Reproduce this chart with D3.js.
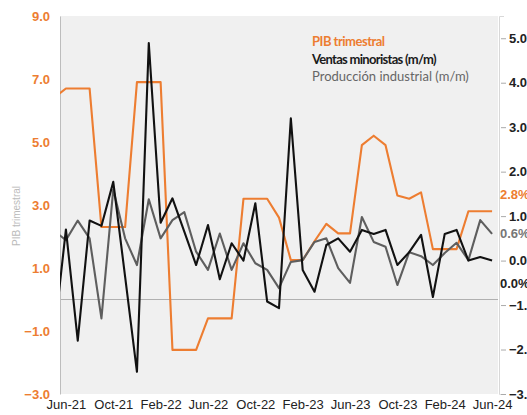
<!DOCTYPE html>
<html><head><meta charset="utf-8">
<script src="https://cdn.jsdelivr.net/npm/d3@7/dist/d3.min.js"></script>
<style>body{margin:0;background:#fff}svg{display:block}</style>
</head><body>
<svg id="c" width="527" height="415"></svg>
<script>
const months = ["May-21","Jun-21","Jul-21","Aug-21","Sep-21","Oct-21","Nov-21","Dec-21","Jan-22","Feb-22","Mar-22","Apr-22","May-22","Jun-22","Jul-22","Aug-22","Sep-22","Oct-22","Nov-22","Dec-22","Jan-23","Feb-23","Mar-23","Apr-23","May-23","Jun-23","Jul-23","Aug-23","Sep-23","Oct-23","Nov-23","Dec-23","Jan-24","Feb-24","Mar-24","Apr-24","May-24","Jun-24"];
const tickLabels = ["Jun-21","Oct-21","Feb-22","Jun-22","Oct-22","Feb-23","Jun-23","Oct-23","Feb-24","Jun-24"];
const pib = [6.4,6.7,6.7,6.7,2.3,2.3,2.3,6.9,6.9,6.9,-1.6,-1.6,-1.6,-0.6,-0.6,-0.6,3.2,3.2,3.2,2.6,1.25,1.25,1.85,2.4,2.1,2.1,4.9,5.2,4.9,3.3,3.2,3.4,1.6,1.6,1.6,2.8,2.8,2.8];
const ventas = [-1.7,0.7,-1.8,0.9,0.78,1.77,-0.36,-2.5,4.89,0.85,1.4,0.65,-0.1,0.8,-0.42,0.39,0.0,1.29,-0.92,-1.07,3.2,-0.21,-0.7,0.35,0.5,0.2,0.69,0.6,0.69,-0.1,0.19,0.58,-0.82,0.6,0.69,0.0,0.08,0.0];
const produccion = [0.67,0.46,0.9,0.5,-1.3,1.6,0.5,-0.1,1.38,0.5,0.91,1.09,0.2,-0.21,0.61,-0.21,0.39,-0.06,-0.21,-0.62,-0.03,0.01,0.42,0.5,-0.17,-0.5,0.98,0.42,0.31,-0.55,0.19,0.1,-0.1,0.17,0.4,0.01,0.91,0.6];
const leftTicks = [9,7,5,3,1,-1,-3];
const rightTicks = [5,4,3,2,1,0,-1,-2,-3];
const legendItems = ["PIB trimestral","Ventas minoristas (m/m)","Producción industrial (m/m)"];
const lastLabels = ["2.8%","0.6%","0.0%"];

const L=60,R=498,T=16,B=394;
const svg=d3.select("#c");
const x=d3.scaleLinear().domain([0.5,months.length-0.5]).range([L,R]);
const yL=d3.scaleLinear().domain([-3,9]).range([B,T]);
const yR=d3.scaleLinear().domain([-3,5.5]).range([B,T]);
const orange="#ED7D31", black="#111111", gray="#5e5e5e";

svg.append("rect").attr("x",L).attr("y",T).attr("width",R-L).attr("height",B-T).attr("fill","#f0f0f0");
svg.append("defs").append("clipPath").attr("id","clip").append("rect").attr("x",L).attr("y",T-20).attr("width",R-L).attr("height",B-T+40);

// zero line
svg.append("line").attr("x1",L).attr("x2",R).attr("y1",yL(0)).attr("y2",yL(0)).attr("stroke","#b0b0b0").attr("stroke-width",1);

// left axis
const ga=svg.append("g").attr("transform",`translate(${L},0)`).call(d3.axisLeft(yL).tickValues(leftTicks).tickFormat(d3.format(".1f")).tickSize(0).tickPadding(10));
ga.select(".domain").attr("stroke","#bdbdbd");
ga.selectAll("text").attr("fill",orange).style("font","bold 13px 'Liberation Sans', Arial, sans-serif");

// right axis
const gr=svg.append("g").attr("transform",`translate(${R+1},0)`).call(d3.axisRight(yR).tickValues(rightTicks).tickFormat(d3.format(".1f")).tickSize(5).tickPadding(5));
gr.select(".domain").attr("stroke","#d8d8d8");
gr.selectAll(".tick line").attr("stroke","#aaa").attr("transform","translate(2,0)");
gr.selectAll("text").attr("fill","#222").style("font","bold 13px 'Liberation Sans', Arial, sans-serif");

// x axis labels
const gx=svg.append("g").attr("transform",`translate(0,${B})`).call(d3.axisBottom(x).tickValues(tickLabels.map(t=>months.indexOf(t))).tickFormat(i=>months[i]).tickSize(0).tickPadding(6));
gx.select(".domain").remove();
gx.selectAll("text").attr("fill","#222").style("font","13px 'Liberation Sans', Arial, sans-serif");

// y title
svg.append("text").attr("transform",`translate(20,${(T+B)/2+11}) rotate(-90)`).attr("text-anchor","middle")
  .attr("fill","#bbb").style("font","10px 'Liberation Sans', Arial, sans-serif").text("PIB trimestral");

const lines=svg.append("g").attr("clip-path","url(#clip)");
const mk=(arr,ys)=>d3.line().x((d,i)=>x(i)).y(d=>ys(d))(arr);
lines.append("path").attr("d",mk(pib,yL)).attr("fill","none").attr("stroke",orange).attr("stroke-width",2.1).attr("stroke-linejoin","round");
lines.append("path").attr("d",mk(produccion,yR)).attr("fill","none").attr("stroke",gray).attr("stroke-width",2.1).attr("stroke-linejoin","round");
lines.append("path").attr("d",mk(ventas,yR)).attr("fill","none").attr("stroke",black).attr("stroke-width",2.1).attr("stroke-linejoin","round");

// legend
const legColors=[orange,"#1a1a1a","#666"], legWeights=["bold","bold","normal"], legSpacing=["-0.5px","-0.7px","0px"];
legendItems.forEach((t,i)=>{
  svg.append("text").attr("x",312).attr("y",46+i*17.5).attr("fill",legColors[i])
    .style("font",`${legWeights[i]} 13px Lato, sans-serif`).style("letter-spacing",legSpacing[i]).text(t);
});

// last value labels
const n=months.length-1;
const lab=[[yL(pib[n])-12,orange],[yR(produccion[n])+4,"#777"],[yR(ventas[n])+27,"#222"]];
lastLabels.forEach((t,i)=>{
  svg.append("text").attr("x",R+2).attr("y",lab[i][0]).attr("fill",lab[i][1])
    .style("font","bold 13px 'Liberation Sans', Arial, sans-serif").text(t);
});
</script>
</body></html>
